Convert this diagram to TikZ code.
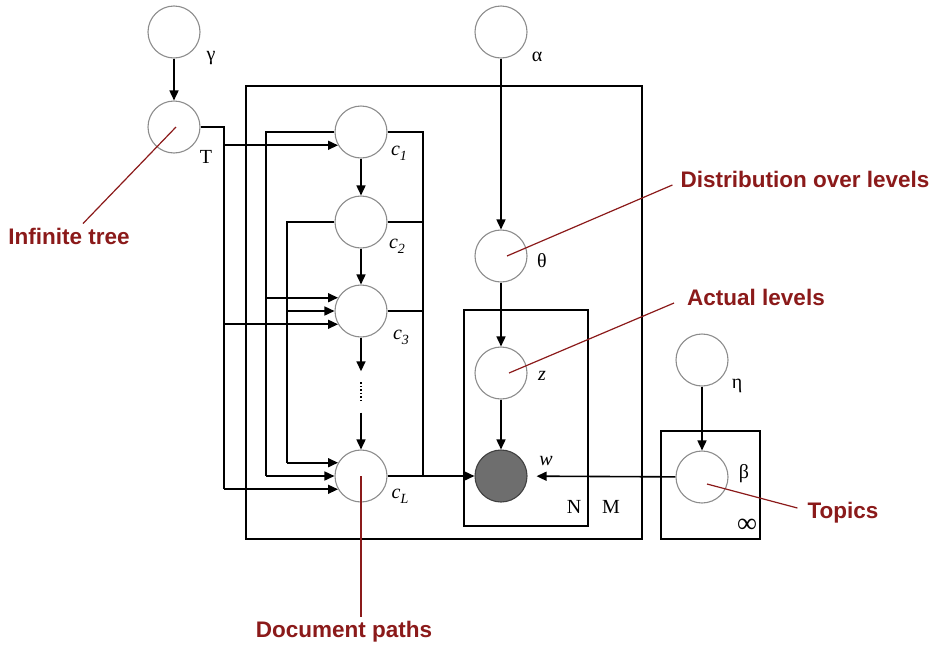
\documentclass[tikz,border=0pt]{standalone}
\usepackage{fontspec}
\setmainfont{Liberation Serif}
\newfontfamily\notefont{Liberation Sans}
\usetikzlibrary{arrows.meta,calc}
\definecolor{notered}{HTML}{8B1A1A}
\definecolor{ringgray}{HTML}{8C8C8C}
\definecolor{obsgray}{HTML}{6E6E6E}
\newcommand{\cvar}[1]{\textit{c}\raisebox{-5pt}{\fontsize{14}{14}\selectfont\itshape #1}}

\begin{document}
\begin{tikzpicture}[x=1pt,y=-1pt,>={Triangle[length=10pt,width=9pt]},
 rv/.style={circle,draw=ringgray,line width=1.1pt,minimum size=52pt,inner sep=0pt},
 obs/.style={rv,fill=obsgray,draw=black!75},
 plate/.style={draw,line width=1.5pt},
 sym/.style={font=\fontsize{20}{20}\selectfont,inner sep=0pt},
 flow/.style={->,line width=1.6pt},
 wire/.style={line width=1.6pt},
 note/.style={draw=notered,line width=1.2pt},
 notetext/.style={text=notered,font=\notefont\bfseries\fontsize{22.5}{24}\selectfont,inner sep=0pt}]
\useasboundingbox (0,0) rectangle (942,651);

% plates
\draw[plate] (246,86) rectangle (642,539);
\draw[plate] (464,310) rectangle (588,526);
\draw[plate] (661,431) rectangle (760,539);

% variables
\node[rv] (gamma) at (174,32) {};
\node[rv] (T) at (174,127) {};
\node[rv] (alpha) at (501,32) {};
\node[rv] (c1) at (361,132) {};
\node[rv] (c2) at (361,222) {};
\node[rv] (c3) at (361,311) {};
\node[inner sep=0pt,minimum height=41pt,minimum width=4pt] (dots) at (361,392) {};
\node[rv] (cL) at (361,476) {};
\node[rv] (theta) at (501,256) {};
\node[rv] (z) at (501,373) {};
\node[obs] (w) at (501,476) {};
\node[rv] (eta) at (702,360) {};
\node[rv] (beta) at (702,477) {};

% symbols
\node[sym] (gammalab) at (211,58) {γ};
\node[sym] (Tlab) at (206,157) {T};
\node[sym] (alphalab) at (537,57) {α};
\node[sym] (c1lab) at (399,153) {\cvar{1}};
\node[sym] (c2lab) at (397,246) {\cvar{2}};
\node[sym] (c3lab) at (401,337) {\cvar{3}};
\node[sym] (cLlab) at (400,496) {\cvar{L}};
\node[sym] (thetalab) at (542,261) {θ};
\node[sym] (zlab) at (542,376) {\textit{z}};
\node[sym] (wlab) at (546,461) {\textit{w}};
\node[sym] (Nlab) at (574,507) {N};
\node[sym] (Mlab) at (611,507) {M};
\node[sym] (etalab) at (737,386) {η};
\node[sym] (betalab) at (744,474) {β};
\node[sym,font=\fontsize{28}{28}\selectfont] (inflab) at (747,526) {∞};

% chain of levels
\draw[flow] (gamma) -- (T);
\draw[flow] (c1) -- (c2);
\draw[flow] (c2) -- (c3);
\draw[flow] (c3) -- (dots.north);
\draw[line width=1.5pt,dotted] ([yshift=-11pt]dots.north) -- ([yshift=11pt]dots.south);
\draw[flow] (dots.south) -- (cL);

% buses on the left
\coordinate (busT) at (224,0);
\coordinate (bus1) at (266,0);
\coordinate (bus2) at (287,0);
\coordinate (busR) at (423,0);
\draw[wire] (T.east) -| (busT |- cL.210);
\draw[flow] (busT |- c1.210) -- (c1.210);
\draw[flow] (busT |- c3.210) -- (c3.210);
\draw[flow] (busT |- cL.210) -- (cL.210);
\draw[wire] (c1.west) -| (bus1 |- cL.west);
\draw[flow] (bus1 |- c3.150) -- (c3.150);
\draw[flow] (bus1 |- cL.west) -- (cL.west);
\draw[wire] (c2.west) -| (bus2 |- cL.150);
\draw[flow] (bus2 |- c3.west) -- (c3.west);
\draw[flow] (bus2 |- cL.150) -- (cL.150);

% bus on the right
\draw[wire] (c1.east) -| (busR |- cL.east);
\draw[wire] (c2.east) -- (busR |- c2.east);
\draw[wire] (c3.east) -- (busR |- c3.east);
\draw[flow] (cL.east) -- (w.west);

% topic side
\draw[flow] (alpha) -- (theta);
\draw[flow] (theta) -- (z);
\draw[flow] (z) -- (w);
\draw[flow] (eta) -- (beta);
\draw[flow,shorten >=9pt] (beta) -- (w);

% notes
\node[notetext] (inftree) at (69,236) {Infinite tree};
\node[notetext] (distlev) at (805,179) {Distribution over levels};
\node[notetext] (actlev) at (756,297) {Actual levels};
\node[notetext] (topics) at (843,513) {Topics};
\node[notetext] (docpaths) at (344,632) {Document paths};
\draw[note] ([xshift=2pt]T.center) -- ([xshift=14pt,yshift=4pt]inftree.north);
\draw[note] ([xshift=6pt]theta.center) -- ([xshift=-8pt,yshift=-6pt]distlev.west);
\draw[note] ([xshift=8pt]z.center) -- ([xshift=-13pt,yshift=-6pt]actlev.west);
\draw[note] ([xshift=5pt,yshift=-7pt]beta.center) -- ([xshift=-10pt,yshift=5pt]topics.west);
\draw[note] (cL.center) -- ([yshift=4pt]cL.center |- docpaths.north);
\end{tikzpicture}
\end{document}
